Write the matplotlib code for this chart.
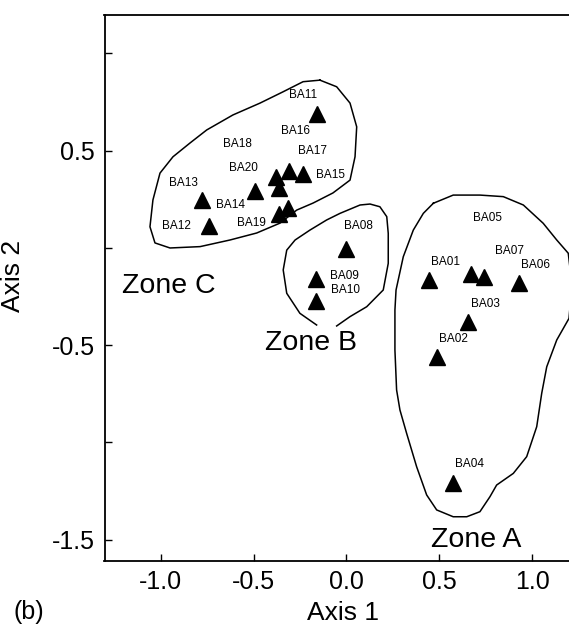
import matplotlib
matplotlib.use("Agg")
import matplotlib.pyplot as plt

plt.rcParams['font.family'] = ['Liberation Sans', 'DejaVu Sans']

# ---- data ----
site_names = ["BA01", "BA02", "BA03", "BA04", "BA05", "BA06", "BA07",
              "BA08", "BA09", "BA10",
              "BA11", "BA12", "BA13", "BA14", "BA15", "BA16", "BA17", "BA18", "BA19", "BA20"]
axis1 = [0.445, 0.486, 0.656, 0.575, 0.671, 0.931, 0.742,
         -0.003, -0.166, -0.164,
         -0.161, -0.739, -0.780, -0.362, -0.233, -0.380, -0.310, -0.362, -0.317, -0.493]
axis2 = [-0.166, -0.563, -0.383, -1.208, -0.135, -0.183, -0.152,
         -0.008, -0.161, -0.274,
         0.688, 0.113, 0.246, 0.172, 0.378, 0.365, 0.395, 0.306, 0.206, 0.292]

# hand-drawn zone outlines (axis1, axis2)
zone_a_x = [0.468, 0.575, 0.719, 0.845, 0.953, 1.060, 1.133, 1.195, 1.215, 1.199, 1.133,
            1.079, 1.052, 1.025, 0.971, 0.899, 0.809, 0.773, 0.719, 0.648, 0.575, 0.486,
            0.432, 0.378, 0.324, 0.288, 0.270, 0.261, 0.261, 0.267, 0.306, 0.360, 0.414, 0.468]
zone_a_y = [0.229, 0.271, 0.271, 0.263, 0.220, 0.126, 0.040, -0.028, -0.191, -0.363, -0.474,
            -0.612, -0.748, -0.920, -1.074, -1.160, -1.220, -1.280, -1.357, -1.383, -1.383, -1.348,
            -1.271, -1.126, -0.954, -0.834, -0.731, -0.526, -0.320, -0.217, -0.046, 0.091, 0.177, 0.229]
zone_b_x = [-0.053, 0.019, 0.109, 0.198, 0.225, 0.225, 0.217, 0.180, 0.127, 0.073, -0.035,
            -0.107, -0.197, -0.277, -0.322, -0.341, -0.322, -0.251, -0.161]
zone_b_y = [-0.402, -0.354, -0.303, -0.217, -0.080, 0.074, 0.160, 0.211, 0.225, 0.220, 0.177,
            0.143, 0.091, 0.040, -0.012, -0.114, -0.234, -0.337, -0.397]
zone_c_x = [-0.143, -0.053, 0.019, 0.055, 0.046, 0.019, -0.073, -0.180, -0.268, -0.358, -0.484,
            -0.628, -0.789, -0.951, -1.032, -1.059, -1.043, -1.005, -0.935, -0.843, -0.753,
            -0.612, -0.466, -0.342, -0.234, -0.143]
zone_c_y = [0.862, 0.828, 0.744, 0.622, 0.468, 0.348, 0.282, 0.230, 0.194, 0.127, 0.076,
            0.040, 0.006, -0.001, 0.025, 0.108, 0.246, 0.384, 0.468, 0.539, 0.606,
            0.683, 0.744, 0.802, 0.854, 0.862]

zone_names = ["Zone A", "Zone B", "Zone C"]
zone_label_x = [0.700, -0.191, -0.956]
zone_label_y = [-1.503, -0.490, -0.197]

x_ticks = [-1.0, -0.5, 0.0, 0.5, 1.0]
x_ticklabels = ["-1.0", "-0.5", "0.0", "0.5", "1.0"]
y_ticks = [0.5, -0.5, -1.5]
y_ticklabels = ["0.5", "-0.5", "-1.5"]
y_minor_ticks = [1.0, 0.0, -1.0]

# label offsets in pixels (layout only)
label_offsets = {
    "BA01": (16, 18), "BA02": (17, 18), "BA03": (17, 18), "BA04": (16, 19),
    "BA05": (16, 56), "BA06": (16, 18), "BA07": (25, 26),
    "BA08": (13, 23), "BA09": (29, 3), "BA10": (29, 11),
    "BA11": (-14, 19), "BA12": (-33, 0), "BA13": (-18, 17), "BA14": (-49, 9),
    "BA15": (27, -1), "BA16": (20, 46), "BA17": (24, 20), "BA18": (-42, 44),
    "BA19": (-36, -15), "BA20": (-12, 23),
}

# ---- figure ----
fig = plt.figure(figsize=(5.69, 6.27), dpi=100)
ax = fig.add_axes([104.5 / 569, (627 - 560.7) / 627, (569 - 104.5) / 569, (560.7 - 15) / 627])

ax.set_xlim(-1.304, 1.199)
ax.set_ylim(-1.609, 1.197)

ax.plot(axis1, axis2, linestyle='none', marker='^', markersize=11, color='black')

for name, x, y in zip(site_names, axis1, axis2):
    dx, dy = label_offsets[name]
    ax.annotate(name, (x, y), xytext=(dx, dy), textcoords='offset pixels',
                ha='center', va='center', fontsize=8.5, color='black')

for zx, zy in [(zone_a_x, zone_a_y), (zone_b_x, zone_b_y), (zone_c_x, zone_c_y)]:
    ax.plot(zx, zy, color='black', linewidth=1.1)

for name, x, y in zip(zone_names, zone_label_x, zone_label_y):
    ax.text(x, y, name, ha='center', va='center', fontsize=20.5, color='black')

ax.set_xticks(x_ticks)
ax.set_xticklabels(x_ticklabels)
ax.set_yticks(y_ticks)
ax.set_yticklabels(y_ticklabels)
ax.set_yticks(y_minor_ticks, minor=True)
ax.tick_params(axis='both', which='both', direction='in', length=5, width=1.0,
               labelsize=18, pad=7)
ax.tick_params(axis='y', which='minor', labelleft=False)

for side in ['left', 'bottom', 'top']:
    ax.spines[side].set_linewidth(1.3)
ax.spines['right'].set_visible(False)

ax.set_xlabel("Axis 1", fontsize=19)
ax.set_ylabel("Axis 2", fontsize=19)
ax.xaxis.set_label_coords(0.513, -0.074)
ax.yaxis.set_label_coords(-0.171, 0.522)

fig.text(13 / 569, 1 - 612 / 627, "(b)", fontsize=18, ha='left', va='center')

fig.savefig("out.png", dpi=100)
